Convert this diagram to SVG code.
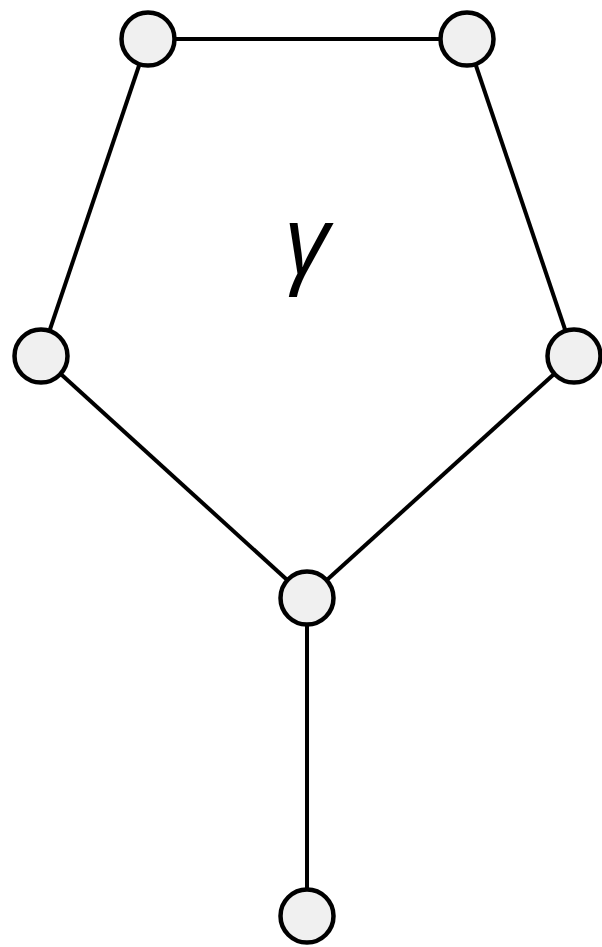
<svg xmlns="http://www.w3.org/2000/svg" width="602" height="947" viewBox="0 0 602 947">
<style>
.edge{stroke:#000;stroke-width:4;fill:none}
.node circle{fill:#f0f0f0;stroke:#000;stroke-width:4.5}
.lbl{font-family:"Open Sans",sans-serif;font-style:italic;font-size:96px;fill:#000}
</style>
<rect width="602" height="947" fill="#fff"/>
<g id="edges">
<line class="edge" x1="148" y1="39" x2="467" y2="39"/>
<line class="edge" x1="148" y1="39" x2="41" y2="356"/>
<line class="edge" x1="467" y1="39" x2="574" y2="356"/>
<line class="edge" x1="41" y1="356" x2="307" y2="598"/>
<line class="edge" x1="574" y1="356" x2="307" y2="598"/>
<line class="edge" x1="307" y1="598" x2="307" y2="916"/>
</g>
<g id="n1" class="node"><circle cx="148" cy="39" r="26.5"/></g>
<g id="n2" class="node"><circle cx="467" cy="39" r="26.5"/></g>
<g id="n3" class="node"><circle cx="41" cy="356" r="26.5"/></g>
<g id="n4" class="node"><circle cx="574" cy="356" r="26.5"/></g>
<g id="n5" class="node"><circle cx="307" cy="598" r="26.5"/></g>
<g id="n6" class="node"><circle cx="307" cy="916" r="26.5"/></g>
<text class="lbl" x="307" y="274" text-anchor="middle">γ</text>
</svg>
